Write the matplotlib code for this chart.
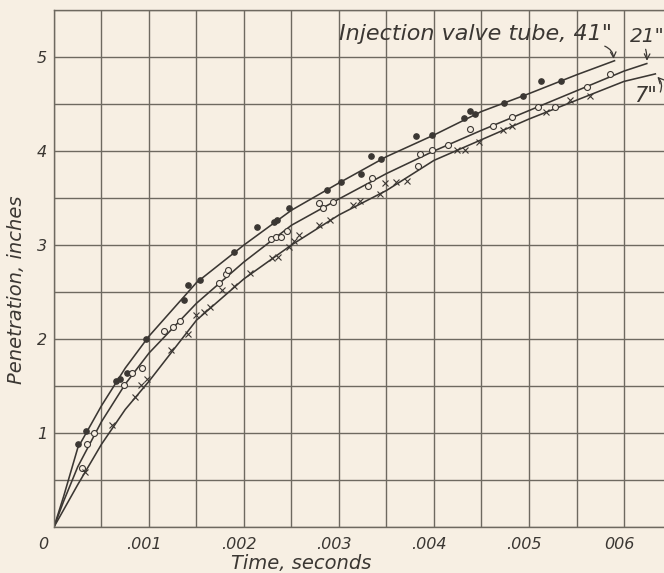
"""Fuel spray penetration vs time for three injection valve tube lengths."""

import matplotlib
matplotlib.use("Agg")
import matplotlib.pyplot as plt
import matplotlib.transforms as mtransforms

# measured points (time in s, penetration in inches)
t41 = [0.000258, 0.000342, 0.000653, 0.000695, 0.000765, 0.000968, 0.00137,
       0.00141, 0.00154, 0.00189, 0.00214, 0.00232, 0.00235, 0.00247,
       0.00287, 0.00302, 0.00323, 0.00334, 0.00344, 0.00381, 0.00398,
       0.00432, 0.00438, 0.00443, 0.00474, 0.00494, 0.00513, 0.00534]
p41 = [0.88, 1.02, 1.55, 1.57, 1.64, 2.00, 2.41, 2.57, 2.63, 2.93, 3.19,
       3.24, 3.27, 3.39, 3.59, 3.67, 3.75, 3.95, 3.91, 4.16, 4.17, 4.35,
       4.43, 4.39, 4.51, 4.59, 4.74, 4.74]

t21 = [0.00029, 0.000347, 0.000423, 0.000742, 0.000821, 0.000923, 0.00116,
       0.00125, 0.00133, 0.00174, 0.00181, 0.00183, 0.00228, 0.00234,
       0.00239, 0.00245, 0.00279, 0.00283, 0.00294, 0.00331, 0.00335,
       0.00383, 0.00385, 0.00398, 0.00415, 0.00438, 0.00462, 0.00482,
       0.0051, 0.00527, 0.00561, 0.00585]
p21 = [0.63, 0.88, 1.00, 1.51, 1.64, 1.69, 2.09, 2.13, 2.19, 2.60, 2.69,
       2.73, 3.06, 3.08, 3.08, 3.15, 3.45, 3.39, 3.46, 3.63, 3.71, 3.84,
       3.97, 4.01, 4.06, 4.23, 4.27, 4.36, 4.47, 4.47, 4.68, 4.82]

t7 = [0.000326, 0.000607, 0.000853, 0.00092, 0.00098, 0.00123, 0.00141,
      0.0015, 0.00158, 0.00164, 0.00177, 0.00189, 0.00206, 0.00229, 0.00236,
      0.00247, 0.00253, 0.00258, 0.00279, 0.00291, 0.00315, 0.00322,
      0.00343, 0.00348, 0.0036, 0.00372, 0.00424, 0.00433, 0.00447, 0.00473,
      0.00482, 0.00518, 0.00543, 0.00564]
p7 = [0.58, 1.08, 1.38, 1.51, 1.57, 1.88, 2.05, 2.25, 2.29, 2.34, 2.52,
      2.56, 2.70, 2.86, 2.87, 2.98, 3.04, 3.11, 3.21, 3.27, 3.43, 3.47,
      3.54, 3.66, 3.67, 3.68, 4.01, 4.01, 4.10, 4.22, 4.27, 4.41, 4.54, 4.59]

# faired curves
ct41 = [0, 0.0001, 0.00025, 0.0005, 0.00075, 0.001, 0.0015, 0.002, 0.0025,
        0.003, 0.0035, 0.004, 0.0045, 0.005, 0.0055, 0.0059]
cp41 = [0, 0.32, 0.84, 1.29, 1.69, 2.03, 2.6, 3.0, 3.37, 3.66, 3.94, 4.17,
        4.42, 4.61, 4.81, 4.96]
ct21 = [0, 0.0001, 0.00025, 0.0005, 0.00075, 0.001, 0.0015, 0.002, 0.0025,
        0.003, 0.0035, 0.004, 0.0045, 0.005, 0.0055, 0.006, 0.00624]
cp21 = [0, 0.27, 0.64, 1.12, 1.52, 1.85, 2.38, 2.82, 3.21, 3.49, 3.76, 4.0,
        4.22, 4.43, 4.64, 4.85, 4.93]
ct7 = [0, 0.0001, 0.00025, 0.0005, 0.00075, 0.001, 0.0015, 0.002, 0.0025,
       0.003, 0.0035, 0.004, 0.0045, 0.005, 0.0055, 0.006, 0.00633]
cp7 = [0, 0.18, 0.45, 0.88, 1.25, 1.55, 2.2, 2.64, 3.0, 3.32, 3.58, 3.9,
       4.12, 4.34, 4.54, 4.74, 4.82]

xticks = [0, 0.001, 0.002, 0.003, 0.004, 0.005, 0.006]
xlabels = ["0", ".001", ".002", ".003", ".004", ".005", "006"]
yticks = [1, 2, 3, 4, 5]
ylabels = ["1", "2", "3", "4", "5"]

PAPER = "#f7efe3"
INK = "#3b3733"
GRID = "#6e6960"

plt.rcParams["font.family"] = ["DejaVu Sans"]
fig = plt.figure(figsize=(6.64, 5.73), dpi=100, facecolor=PAPER)
ax = fig.add_axes([0.0813, 0.0803, 0.930, 0.9023], facecolor=PAPER)
ax.set_xlim(0, 0.0065)
ax.set_ylim(0, 5.5)

ax.set_xticks(xticks)
ax.set_xticklabels(xlabels)
ax.set_xticks([i * 0.0005 for i in range(14)], minor=True)
ax.set_yticks(yticks)
ax.set_yticklabels(ylabels)
ax.set_yticks([i * 0.5 for i in range(12)], minor=True)
ax.grid(which="both", color=GRID, lw=1.0)
ax.set_axisbelow(True)
ax.tick_params(which="both", length=0, colors=INK, labelsize=11.5)
ax.tick_params(axis="x", pad=7)
ax.tick_params(axis="y", pad=5)
for lab in ax.get_xticklabels() + ax.get_yticklabels():
    lab.set_fontstyle("italic")
for i, lab in enumerate(ax.get_xticklabels()):
    dx = -11 if i == 0 else -5
    lab.set_transform(lab.get_transform() +
                      mtransforms.ScaledTranslation(dx / 100, 0, fig.dpi_scale_trans))
for s in ax.spines.values():
    s.set_color(GRID)
    s.set_linewidth(1.0)

ax.plot(ct41, cp41, "-", color=INK, lw=1.15)
ax.plot(ct21, cp21, "-", color=INK, lw=1.15)
ax.plot(ct7, cp7, "-", color=INK, lw=1.15)
ax.plot(t41, p41, "o", color=INK, ms=3.8, mec=INK)
ax.plot(t21, p21, "o", mfc=PAPER, mec=INK, ms=4.3, mew=0.8)
ax.plot(t7, p7, "x", color=INK, ms=4.3, mew=0.8)

ax.set_xlabel("Time, seconds", fontsize=14, style="italic", color=INK)
ax.set_ylabel("Penetration, inches", fontsize=14, style="italic", color=INK)
ax.xaxis.set_label_coords(0.40, -0.052)
ax.yaxis.set_label_coords(-0.046, 0.458)

# curve labels with hand-drawn style arrows
ax.text(0.00587, 5.245, 'Injection valve tube, 41"', ha="right", va="center",
        fontsize=16, style="italic", color=INK)
ax.annotate("", xy=(0.00589, 4.95), xytext=(0.00577, 5.125),
            arrowprops=dict(arrowstyle="->", color=INK, lw=0.9,
                            connectionstyle="arc3,rad=-0.4"))
ax.text(0.006245, 5.22, '21"', ha="center", va="center",
        fontsize=14.5, style="italic", color=INK)
ax.annotate("", xy=(0.00624, 4.93), xytext=(0.00622, 5.11),
            arrowprops=dict(arrowstyle="->", color=INK, lw=0.9,
                            connectionstyle="arc3,rad=-0.1"))
ax.text(0.00623, 4.585, '7"', ha="center", va="center",
        fontsize=15, style="italic", color=INK)
ax.annotate("", xy=(0.00633, 4.81), xytext=(0.00637, 4.6),
            arrowprops=dict(arrowstyle="->", color=INK, lw=0.9,
                            connectionstyle="arc3,rad=0.4"))

fig.savefig("out.png", dpi=100, facecolor=PAPER)
